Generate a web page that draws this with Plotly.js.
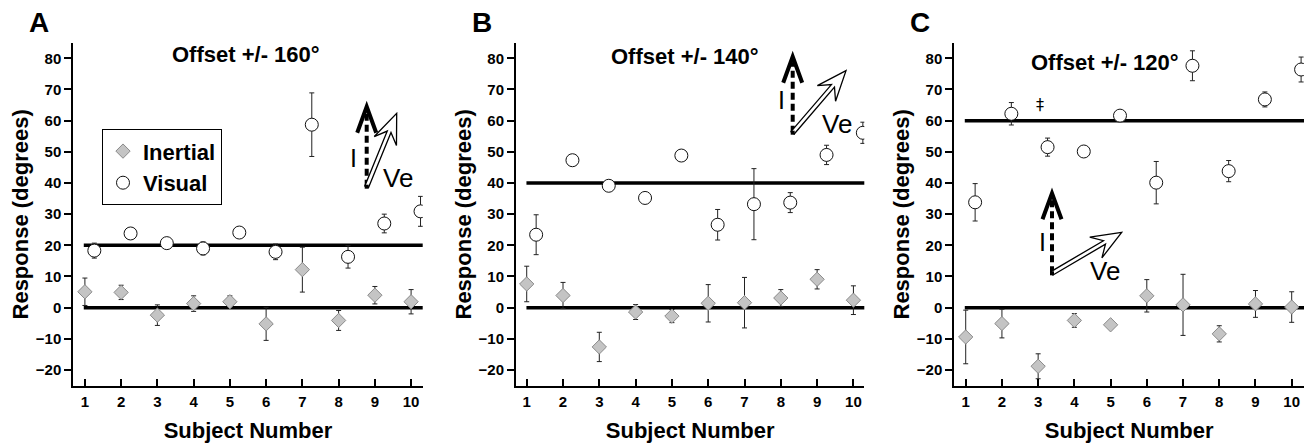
<!DOCTYPE html>
<html>
<head>
<meta charset="utf-8">
<script src="https://cdn.plot.ly/plotly-3.0.1.min.js"></script>
<style>html,body{margin:0;padding:0;background:#fff;}#chart{width:1312px;height:448px;}</style>
</head>
<body>
<div id="chart"></div>
<script>
// ---------- data ----------
const subjects = [1, 2, 3, 4, 5, 6, 7, 8, 9, 10];
const panelLetters = ['A', 'B', 'C'];
const panelTitles = ['Offset +/- 160°', 'Offset +/- 140°', 'Offset +/- 120°'];
const offsetLevels = [20, 40, 60];
const yTicks = [-20, -10, 0, 10, 20, 30, 40, 50, 60, 70, 80];

const inertialA    = [5.1, 4.9, -2.4, 1.3, 1.9, -5.2, 12.2, -4.1, 4.0, 1.9];
const inertialAErr = [4.4, 2.3, 3.3, 2.5, 1.9, 5.3, 7.2, 3.2, 2.8, 3.9];
const visualA      = [18.3, 23.8, 20.7, 19.0, 24.1, 17.9, 58.7, 16.3, 27.0, 30.9];
const visualAErr   = [2.4, 1.0, 1.0, 2.1, 1.0, 2.5, 10.2, 3.6, 3.0, 4.8];

const inertialB    = [7.6, 3.9, -12.6, -1.4, -2.7, 1.4, 1.6, 3.1, 9.1, 2.4];
const inertialBErr = [5.7, 4.2, 4.7, 2.4, 2.1, 6.0, 8.1, 2.7, 3.1, 4.6];
const visualB      = [23.4, 47.3, 39.1, 35.2, 48.8, 26.6, 33.2, 33.7, 49.0, 56.1];
const visualBErr   = [6.4, 1.0, 1.0, 1.0, 1.0, 4.9, 11.4, 3.2, 3.1, 3.4];

const inertialC    = [-9.4, -5.1, -18.8, -4.1, -5.5, 3.8, 0.9, -8.4, 1.2, 0.2];
const inertialCErr = [8.6, 4.6, 4.0, 2.2, 1.0, 5.2, 9.8, 2.6, 4.3, 4.9];
const visualC      = [33.8, 62.2, 51.5, 50.1, 61.6, 40.1, 77.6, 43.8, 66.8, 76.4];
const visualCErr   = [6.0, 3.6, 2.9, 1.0, 1.0, 6.8, 4.8, 3.4, 2.4, 4.0];

const inertialSets = [[inertialA, inertialAErr], [inertialB, inertialBErr], [inertialC, inertialCErr]];
const visualSets   = [[visualA, visualAErr], [visualB, visualBErr], [visualC, visualCErr]];

// ---------- layout helpers ----------
const W = 1312, H = 448;
const FONT = 'Liberation Sans, Arial, Helvetica, sans-serif';
const px = x => x / W;
const py = y => 1 - y / H;

const xDomains = [[73.3, 422.7], [516, 864.3], [954.3, 1304]];
const yDomain = [py(386), py(42.7)];
const xRanges = [[0.68, 10.32], [0.705, 10.3], [0.685, 10.34]];
const yRange = [-25.13, 85.0];

const traces = [];
const layout = {
  width: W, height: H,
  margin: {l: 0, r: 0, t: 0, b: 0},
  paper_bgcolor: '#fff', plot_bgcolor: 'rgba(0,0,0,0)',
  font: {family: FONT, color: '#000'},
  showlegend: true,
  legend: {
    x: px(102), y: py(129.3), xanchor: 'left', yanchor: 'top',
    bordercolor: '#000', borderwidth: 1, bgcolor: '#fff',
    font: {family: FONT, size: 22, weight: 'bold', color: '#000'},
    itemsizing: 'trace', tracegroupgap: 0
  },
  shapes: [], annotations: []
};

for (let p = 0; p < 3; p++) {
  const sfx = p === 0 ? '' : String(p + 1);
  const xa = 'x' + sfx, ya = 'y' + sfx;
  layout['xaxis' + sfx] = {
    domain: [px(xDomains[p][0]), px(xDomains[p][1])], anchor: ya,
    range: xRanges[p], tickvals: subjects, ticktext: subjects.map(String),
    showline: true, linecolor: '#000', linewidth: 2,
    ticks: 'inside', ticklen: 7, tickwidth: 2, tickcolor: '#000',
    showgrid: false, zeroline: false, ticklabelstandoff: 1,
    tickfont: {family: FONT, size: 15, weight: 'bold', color: '#000'},
    title: {text: 'Subject Number', font: {family: FONT, size: 22, weight: 'bold', color: '#000'}, standoff: 14}
  };
  layout['yaxis' + sfx] = {
    domain: yDomain, anchor: xa, range: yRange, tickvals: yTicks,
    showline: true, linecolor: '#000', linewidth: 2,
    ticks: 'outside', ticklen: 7, tickwidth: 2, tickcolor: '#000',
    showgrid: false, zeroline: false,
    tickfont: {family: FONT, size: 15, weight: 'bold', color: '#000'},
    title: {text: 'Response (degrees)', font: {family: FONT, size: 22, weight: 'bold', color: '#000'}, standoff: 1}
  };

  // reference lines (0 and offset level)
  [0, offsetLevels[p]].forEach(lv => {
    layout.shapes.push({type: 'line', xref: xa + ' domain', yref: ya,
      x0: 0.03, x1: 1.0, y0: lv, y1: lv, line: {color: '#000', width: 3.5}, layer: 'below'});
  });

  const [iv, ie] = inertialSets[p];
  const [vv, ve] = visualSets[p];
  traces.push({
    type: 'scatter', mode: 'markers', name: 'Inertial', xaxis: xa, yaxis: ya,
    x: subjects, y: iv, showlegend: p === 0, legendgroup: 'in',
    error_y: {type: 'data', array: ie, visible: true, color: '#222', thickness: 1, width: 2.5},
    marker: {symbol: 'diamond', size: 11, color: '#c4c4c4', line: {color: '#8a8a8a', width: 1}}
  });
  traces.push({
    type: 'scatter', mode: 'markers', name: 'Visual', xaxis: xa, yaxis: ya,
    x: subjects.map(s => s + 0.26), y: vv, showlegend: p === 0, legendgroup: 'vi',
    error_y: {type: 'data', array: ve, visible: true, color: '#222', thickness: 1, width: 2.5},
    marker: {symbol: 'circle', size: 13, color: '#fff', line: {color: '#111', width: 1}}
  });

  // panel title & letter
  layout.annotations.push({xref: 'paper', yref: 'paper', showarrow: false,
    x: px([246.5, 684.5, 1105][p]), y: py([55, 56, 62][p]), xanchor: 'center', yanchor: 'middle',
    text: panelTitles[p], font: {family: FONT, size: 22, weight: 'bold', color: '#000'}});
  layout.annotations.push({xref: 'paper', yref: 'paper', showarrow: false,
    x: px([39, 481.7, 919.5][p]), y: py(23), xanchor: 'center', yanchor: 'middle',
    text: panelLetters[p], font: {family: FONT, size: 28, weight: 'bold', color: '#000'}});
}

// ‡ marker in panel C
layout.annotations.push({xref: 'x3', yref: 'y3', x: 3.06, y: 65.2, showarrow: false,
  xanchor: 'center', yanchor: 'middle',
  text: '‡', font: {family: 'DejaVu Sans, sans-serif', size: 16, color: '#000'}});

// ---------- direction-vector glyphs (I dashed, Ve hollow) ----------
const glyphs = [
  {s: [366.7, 186.7], iTip: [366.7, 106.7], vTip: [396.7, 113.3], iLab: [353.3, 157.5], vLab: [398.3, 177.5]},
  {s: [792.7, 132.7], iTip: [792.7, 56.7], vTip: [846, 70.7], iLab: [781.7, 100], vLab: [836.7, 124]},
  {s: [1052, 273.3], iTip: [1052, 193.3], vTip: [1121.7, 232.3], iLab: [1042.7, 241.7], vLab: [1104.5, 270.7]}
];
function P(x, y) { return px(x).toFixed(5) + ',' + py(y).toFixed(5); }
glyphs.forEach(g => {
  // dashed I shaft
  layout.shapes.push({type: 'line', xref: 'paper', yref: 'paper',
    x0: px(g.s[0]), y0: py(g.s[1]), x1: px(g.iTip[0]), y1: py(g.iTip[1] + 6),
    line: {color: '#000', width: 4, dash: '7px,4px'}});
  // chevron head
  const t = g.iTip;
  layout.shapes.push({type: 'path', xref: 'paper', yref: 'paper',
    path: 'M' + P(t[0] - 9.5, t[1] + 26) + ' L' + P(t[0], t[1]) + ' L' + P(t[0] + 9.5, t[1] + 26),
    line: {color: '#000', width: 4}});
  // hollow Ve arrow
  const dx = g.vTip[0] - g.s[0], dy = g.vTip[1] - g.s[1];
  const len = Math.hypot(dx, dy), ux = dx / len, uy = dy / len, nx = -uy, ny = ux;
  const L = 30, Wd = 12, w = 2, Ln = 20;
  const pt = (d, o) => [g.vTip[0] - ux * d + nx * o, g.vTip[1] - uy * d + ny * o];
  const a1 = [g.s[0] + nx * w, g.s[1] + ny * w], a2 = [g.s[0] - nx * w, g.s[1] - ny * w];
  const pts = [a1, pt(Ln, w), pt(L, Wd), [g.vTip[0], g.vTip[1]], pt(L, -Wd), pt(Ln, -w), a2];
  layout.shapes.push({type: 'path', xref: 'paper', yref: 'paper',
    path: 'M' + pts.map(q => P(q[0], q[1])).join(' L') + ' Z',
    fillcolor: '#fff', line: {color: '#000', width: 1.3}});
  // start dot
  layout.shapes.push({type: 'rect', xref: 'paper', yref: 'paper',
    x0: px(g.s[0] - 2), x1: px(g.s[0] + 2), y0: py(g.s[1] + 2), y1: py(g.s[1] - 2),
    fillcolor: '#000', line: {width: 0}});
  // labels
  layout.annotations.push({xref: 'paper', yref: 'paper', showarrow: false,
    xanchor: 'center', yanchor: 'middle',
    x: px(g.iLab[0]), y: py(g.iLab[1]), text: 'I', font: {family: FONT, size: 25, color: '#000'}});
  layout.annotations.push({xref: 'paper', yref: 'paper', showarrow: false,
    xanchor: 'center', yanchor: 'middle',
    x: px(g.vLab[0]), y: py(g.vLab[1]), text: 'Ve', font: {family: FONT, size: 26, color: '#000'}});
});

Plotly.newPlot('chart', traces, layout, {displayModeBar: false, staticPlot: true});
</script>
</body>
</html>
